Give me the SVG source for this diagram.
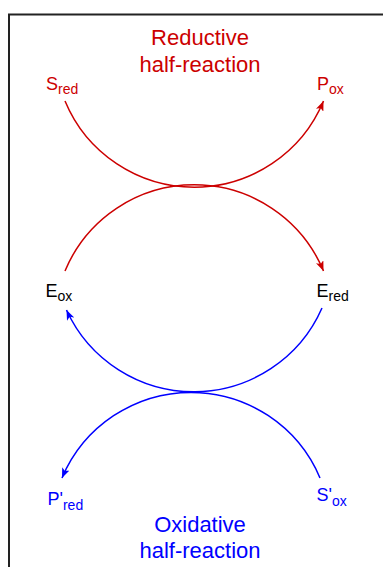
<svg xmlns="http://www.w3.org/2000/svg" width="383" height="567" viewBox="0 0 383 567">
<style>
.t{font-family:"Liberation Sans",Arial,sans-serif;font-size:18px}
.ttl{font-family:"Liberation Sans",Arial,sans-serif;font-size:22px;text-anchor:middle}
.sub{font-size:14px}
.red{fill:#cc0000}
.blue{fill:#0000ff}
.blk{fill:#000}
.ar{fill:none;stroke-width:1.5}
.ar.r{stroke:#cc0000}
.ar.b{stroke:#0000ff}
</style>
<defs>
<marker id="mr" markerWidth="10" markerHeight="8" refX="10" refY="4" orient="auto" markerUnits="userSpaceOnUse">
<path d="M0,0 L10,4 L0,8 L2.5,4 z" fill="#cc0000"/>
</marker>
<marker id="mb" markerWidth="10" markerHeight="8" refX="10" refY="4" orient="auto" markerUnits="userSpaceOnUse">
<path d="M0,0 L10,4 L0,8 L2.5,4 z" fill="#0000ff"/>
</marker>
</defs>
<rect x="9" y="14.5" width="420" height="600" fill="none" stroke="#222" stroke-width="2"/>
<g id="connectors">
<path class="ar r" d="M65,101 A140,140 0 0 0 323.5,101" marker-end="url(#mr)"/>
<path class="ar r" d="M65,271 A140,140 0 0 1 323.5,271" marker-end="url(#mr)"/>
<path class="ar b" d="M322,308 A140,140 0 0 1 66.5,310" marker-end="url(#mb)"/>
<path class="ar b" d="M320,478 A140,140 0 0 0 62,478" marker-end="url(#mb)"/>
</g>
<g id="title-red">
<text class="ttl red" x="200" y="45">Reductive</text>
<text class="ttl red" x="200" y="71.5">half-reaction</text>
</g>
<g id="title-blue">
<text class="ttl blue" x="200" y="531.5">Oxidative</text>
<text class="ttl blue" x="200" y="558">half-reaction</text>
</g>
<g id="S_red"><text class="t red" x="46" y="90">S<tspan class="sub" dy="3.5">red</tspan></text></g>
<g id="P_ox"><text class="t red" x="317" y="90">P<tspan class="sub" dy="3.5">ox</tspan></text></g>
<g id="E_ox"><text class="t blk" x="45.5" y="297">E<tspan class="sub" dy="3.5">ox</tspan></text></g>
<g id="E_red"><text class="t blk" x="316.5" y="297">E<tspan class="sub" dy="3.5">red</tspan></text></g>
<g id="P_red"><text class="t blue" x="47.5" y="505">P'<tspan class="sub" dy="4.5">red</tspan></text></g>
<g id="S_ox"><text class="t blue" x="316.5" y="501">S'<tspan class="sub" dy="4.5">ox</tspan></text></g>
</svg>
